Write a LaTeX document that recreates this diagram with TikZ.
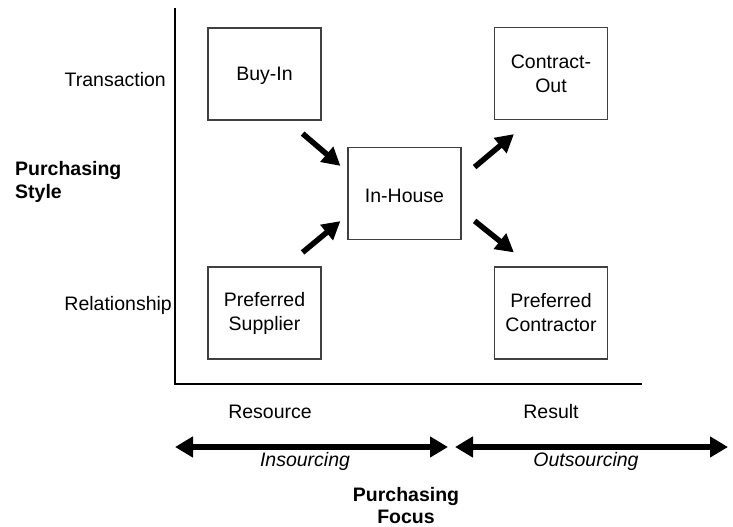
\documentclass[tikz,border=0pt]{standalone}
\usepackage{fontspec}
\setmainfont{Liberation Sans}
\usetikzlibrary{arrows.meta}
\begin{document}
\begin{tikzpicture}[x=1pt,y=-1pt,
  every node/.style={font=\fontsize{19.5}{23.5}\selectfont},
  quad/.style={draw=black!75,line width=1.2pt,minimum width=113pt,minimum height=92pt,inner sep=0pt,align=center,
    font=\fontsize{19.5}{24}\selectfont,execute at begin node={\rule{0pt}{18pt}}},
  lbl/.style={inner sep=0pt,align=center,anchor=base},
  heading/.style={inner sep=0pt,anchor=base,font=\fontsize{19.5}{23}\selectfont\bfseries},
  axis/.style={line width=1.4pt},
  move/.style={line width=5.5pt,-{Triangle[length=18pt,width=19pt]}},
  span/.style={line width=6pt,{Triangle[length=18pt,width=20pt]}-{Triangle[length=18pt,width=20pt]}}]
\useasboundingbox (0,0) rectangle (733,527);

% axes
\coordinate (top) at (175,8);
\coordinate (origin) at (175,384);
\coordinate (xend) at (642,384);
\draw[axis] (top) -- (origin) -- (xend);

% quadrant boxes
\node[quad] (buyin) at (264.5,74) {Buy-In};
\node[quad] (inhouse) at (404.5,193.5) {In-House};
\node[quad] (contract) at (551,73.5) {Contract-\\Out};
\node[quad] (supplier) at (264.5,313) {Preferred\\Supplier};
\node[quad] (contractor) at (551,313) {Preferred\\Contractor};

% moves between quadrants
\draw[move] ([shift={(-19,13)}]buyin.south east) -- ([shift={(-7,19)}]inhouse.north west);
\draw[move] ([shift={(-19,-14)}]supplier.north east) -- ([shift={(-7,-19)}]inhouse.south west);
\draw[move] ([shift={(13,-73)}]inhouse.south east) -- ([shift={(20,14)}]contract.south west);
\draw[move] ([shift={(13,74)}]inhouse.north east) -- ([shift={(20,-14)}]contractor.north west);

% vertical axis labels
\node[lbl,anchor=base east] (trans) at (166,86) {Transaction};
\node[lbl,anchor=base east] (rel) at (172,310) {Relationship};
\node[heading,anchor=base west] (style1) at (15,175) {Purchasing};
\node[heading,anchor=base west] (style2) at (15,198) {Style};

% horizontal axis labels
\node[lbl] (resource) at (270,418) {Resource};
\node[lbl] (result) at (551,418) {Result};

% sourcing ranges
\coordinate (inL) at (175,447);
\coordinate (inR) at (448,447);
\coordinate (outL) at (455,447);
\coordinate (outR) at (728,447);
\draw[span] (inL) -- (inR);
\draw[span] (outL) -- (outR);
\node[lbl,font=\fontsize{19.5}{23.5}\selectfont\itshape] (insrc) at (305,466) {Insourcing};
\node[lbl,font=\fontsize{19.5}{23.5}\selectfont\itshape] (outsrc) at (586,466) {Outsourcing};
\node[heading] (focus1) at (406,501) {Purchasing};
\node[heading] (focus2) at (406,523) {Focus};
\end{tikzpicture}
\end{document}
